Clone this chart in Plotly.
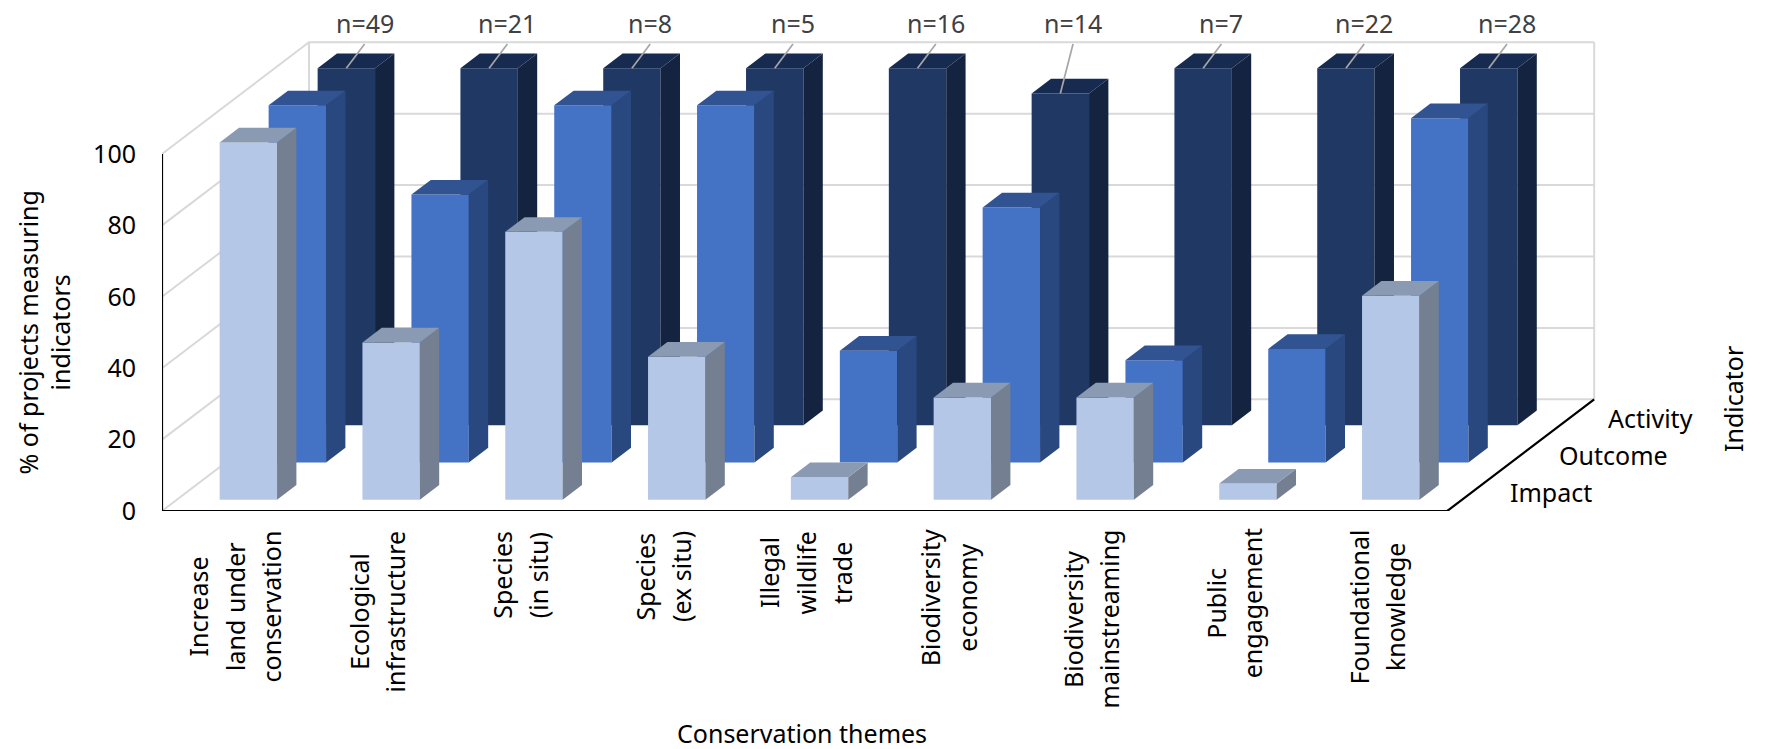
import plotly.graph_objects as go

themes = [
    ["Increase", "land under", "conservation"],
    ["Ecological", "infrastructure"],
    ["Species", "(in situ)"],
    ["Species", "(ex situ)"],
    ["Illegal", "wildlife", "trade"],
    ["Biodiversity", "economy"],
    ["Biodiversity", "mainstreaming"],
    ["Public", "engagement"],
    ["Foundational", "knowledge"],
]
sample_sizes = [49, 21, 8, 5, 16, 14, 7, 22, 28]
impact = [100, 44, 75, 40, 6.3, 28.6, 28.6, 4.5, 57.1]
outcome = [100, 75, 100, 100, 31.3, 71.4, 28.6, 31.8, 96.4]
activity = [100, 100, 100, 100, 100, 92.9, 100, 100, 100]
y_ticks = [0, 20, 40, 60, 80, 100]
depth_labels = ["Impact", "Outcome", "Activity"]

# oblique projection: one series step of depth, in axis units
STEP_X, STEP_Y = 0.3431, 10.42
BAR_W, BAR_D, BAR_Z0 = 0.402, 0.395, 0.305
N = len(themes)
DEPTH = 3
FONT = "Noto Sans"
FS = 25
GRID = "#d9d9d9"

X_RANGE = [-0.5, 9.57]
Y_RANGE = [0, 137.5]

# how far each rotated label block hangs below the axis, in pixels
LABEL_DROP = [95.5, 100, 64, 66, 62, 87, 108, 92, 96]

series = [
    ("Activity", activity, 2, "#1F3864", "#172B50", "#14233F"),
    ("Outcome", outcome, 1, "#4472C4", "#325392", "#2A4880"),
    ("Impact", impact, 0, "#B4C7E7", "#8A9AB2", "#747F92"),
]


def proj(x, y, z):
    return x + z * STEP_X, y + z * STEP_Y


def line(points, color, width, xa="x", ya="y"):
    xs, ys = zip(*points)
    return go.Scatter(x=list(xs), y=list(ys), mode="lines", xaxis=xa, yaxis=ya, cliponaxis=False,
                      line=dict(color=color, width=width), hoverinfo="skip", showlegend=False)


fig = go.Figure()

# walls, on the lowest pair of axes
for t in y_ticks:
    fig.add_trace(line([proj(-0.5, t, 0), proj(-0.5, t, DEPTH), proj(N - 0.5, t, DEPTH)], GRID, 2))
fig.add_trace(line([proj(-0.5, 0, DEPTH), proj(-0.5, 100, DEPTH)], GRID, 2))
fig.add_trace(line([proj(N - 0.5, 0, DEPTH), proj(N - 0.5, 100, DEPTH)], GRID, 2))

# one overlaid pair of axes per series, back to front
for idx, (name, vals, k, front, top, side) in enumerate(series):
    xa, ya = f"x{idx + 2}", f"y{idx + 2}"
    z0 = k + BAR_Z0
    z1 = z0 + BAR_D
    fig.add_trace(go.Bar(
        x=[i + z0 * STEP_X for i in range(N)], y=vals, base=z0 * STEP_Y, width=BAR_W,
        marker=dict(color=front, line=dict(width=0)), name=name, xaxis=xa, yaxis=ya, showlegend=False,
    ))
    for i, v in enumerate(vals):
        l, r = i - BAR_W / 2, i + BAR_W / 2
        pts = [proj(r, 0, z0), proj(r, 0, z1), proj(r, v, z1), proj(r, v, z0), proj(r, 0, z0)]
        fig.add_trace(go.Scatter(x=[p[0] for p in pts], y=[p[1] for p in pts], mode="lines", fill="toself",
                                 fillcolor=side, line=dict(width=0), xaxis=xa, yaxis=ya,
                                 hoverinfo="skip", showlegend=False))
        pts = [proj(l, v, z0), proj(r, v, z0), proj(r, v, z1), proj(l, v, z1), proj(l, v, z0)]
        fig.add_trace(go.Scatter(x=[p[0] for p in pts], y=[p[1] for p in pts], mode="lines", fill="toself",
                                 fillcolor=top, line=dict(width=0), xaxis=xa, yaxis=ya,
                                 hoverinfo="skip", showlegend=False))

# axis lines and leader lines on the top layer
TOP = ("x5", "y5")
fig.add_trace(line([(-0.5, 100), (-0.5, 0), (N - 0.5, 0), proj(N - 0.5, 0, DEPTH)], "black", 2.2, *TOP))
z_front = 2 + BAR_Z0
LABEL_Y = 130.8
for i, v in enumerate(activity):
    bx, by = proj(i, v, z_front)
    lean = 0.128 if v == 100 else 0.089
    fig.add_trace(line([(bx, by), (bx + lean, LABEL_Y)], "#a6a6a6", 1.7, *TOP))
    fig.add_annotation(x=bx + lean, y=LABEL_Y, xref="x5", yref="y5", text=f"n={sample_sizes[i]}", showarrow=False,
                       yshift=21, font=dict(family=FONT, size=FS, color="#404040"))

# category labels, one annotation per rotated line
PITCH = 36.5
for i, lines in enumerate(themes):
    for j, txt in enumerate(lines):
        fig.add_annotation(x=i, y=0, xref="x5", yref="y5", text=txt, textangle=-90, showarrow=False,
                           xshift=1 + (j - (len(lines) - 1) / 2) * PITCH, yshift=-LABEL_DROP[i],
                           font=dict(family=FONT, size=FS, color="black"))

for k, name in enumerate(depth_labels):
    dx, dy = proj(N - 0.5, 0, k + 0.5)
    fig.add_annotation(x=dx, y=dy, xref="x5", yref="y5", text=name, showarrow=False, xanchor="left",
                       xshift=36, font=dict(family=FONT, size=FS, color="black"))

fig.add_annotation(xref="paper", yref="paper", x=1.1057, y=0.116, text="Indicator", textangle=-90, showarrow=False,
                   font=dict(family=FONT, size=FS, color="black"))
fig.add_annotation(x=3.985, y=0, xref="x5", yref="y5", text="Conservation themes", showarrow=False, yshift=-222,
                   font=dict(family=FONT, size=FS, color="black"))
fig.add_annotation(xref="paper", yref="paper", x=-0.1064, y=0.3646, text="% of projects measuring<br>indicators",
                   textangle=-90, showarrow=False, font=dict(family=FONT, size=FS, color="black"))

axis_common = dict(range=X_RANGE, showgrid=False, zeroline=False, showline=False, showticklabels=False, ticks="")
yaxis_hidden = dict(range=Y_RANGE, showgrid=False, zeroline=False, showline=False, showticklabels=False, ticks="")
fig.update_layout(
    width=1772, height=749, autosize=False, margin=dict(l=162, r=172, t=20, b=238),
    paper_bgcolor="white", plot_bgcolor="white", showlegend=False, barmode="overlay",
    xaxis=dict(**axis_common),
    yaxis=dict(range=Y_RANGE, showgrid=False, zeroline=False, showline=False, tickmode="array", tickvals=y_ticks,
               ticks="", ticklabelstandoff=25, tickfont=dict(family=FONT, size=FS, color="black")),
)
for n in range(2, 6):
    fig.update_layout({f"xaxis{n}": dict(**axis_common, overlaying="x"),
                       f"yaxis{n}": dict(**yaxis_hidden, overlaying="y")})
fig.write_html("out.html", config=dict(displayModeBar=False),
               post_script="document.body.style.margin='0';document.body.style.overflow='hidden';")
